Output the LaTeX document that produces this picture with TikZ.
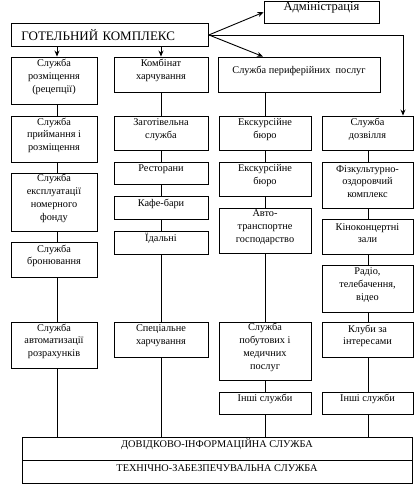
\documentclass[tikz,border=0pt]{standalone}
\usepackage{fontspec}
\setmainfont{Liberation Serif}
\usetikzlibrary{fit,arrows.meta}
\newcommand\mkbox[6]{\node[box, fit={(#2,#3)(#4,#5)}] (#1) {#6};}
\begin{document}
\begin{tikzpicture}[x=1pt,y=-1pt,
  box/.style={draw, line width=0.9pt, inner sep=0pt, align=center,
    font=\fontsize{10.3}{12.8}\selectfont},
  conn/.style={line width=0.9pt},
  arr/.style={line width=0.9pt, -{Stealth[length=6pt,width=5pt]}}]
\useasboundingbox (0,0) rectangle (415,493);
% top
\node[draw, line width=0.9pt, anchor=north west, minimum height=23pt, text width=177pt,
  inner xsep=10pt, inner ysep=0pt, align=left, font=\fontsize{13}{15}\selectfont] (g) at (11,23) {ГОТЕЛЬНИЙ КОМПЛЕКС};
\node[box, fit={(264,1.5)(379,23)}, font=\fontsize{12.5}{14}\selectfont] (adm) {Адміністрація};
% column coordinates
\coordinate (c1) at (57,0);
\coordinate (c2) at (161,0);
\coordinate (c3) at (265,0);
\coordinate (cP) at (263,0);
\coordinate (c4) at (368,0);
\coordinate (cD) at (403,0);
% column 1
\mkbox{a1}{11}{57}{97}{104}{Служба\\розміщення\\(рецепції)}
\mkbox{a2}{11}{116}{97}{162}{Служба\\приймання і\\розміщення}
\mkbox{a3}{11}{173}{97}{231}{Служба\\експлуатації\\номерного\\фонду}
\mkbox{a4}{11}{242}{97}{277}{Служба\\бронювання}
\mkbox{a5}{11}{322}{97}{368}{Служба\\автоматизації\\розрахунків}
% column 2
\mkbox{b1}{114}{57}{208}{92}{Комбінат\\харчування}
\mkbox{b2}{114}{116}{208}{150}{Заготівельна\\служба}
\mkbox{b3}{114}{162}{208}{184}{Ресторани}
\mkbox{b4}{114}{196}{208}{219}{Кафе-бари}
\mkbox{b5}{114}{231}{208}{254}{Їдальні}
\mkbox{b6}{114}{322}{208}{357}{Спеціальне\\харчування}
% column 3
\mkbox{p}{218}{57}{380}{92}{Служба периферійних\ \ послуг}
\mkbox{e1}{219}{116}{311}{150}{Екскурсійне\\бюро}
\mkbox{e2}{219}{162}{311}{196}{Екскурсійне\\бюро}
\mkbox{e3}{219}{208}{311}{253}{Авто-\\транспортне\\господарство}
\mkbox{e4}{219}{322}{311}{380}{Служба\\побутових і\\медичних\\послуг}
\mkbox{e5}{219}{392}{311}{414}{Інші служби}
% column 4
\mkbox{d1}{322}{116}{413}{150}{Служба\\дозвілля}
\mkbox{d2}{322}{162}{413}{208}{Фізкультурно-\\оздоровчий\\комплекс}
\mkbox{d3}{322}{219}{413}{254}{Кіноконцертні\\зали}
\mkbox{d4}{322}{265}{413}{312}{Радіо,\\телебачення,\\відео}
\mkbox{d5}{322}{322}{413}{357}{Клуби за\\інтересами}
\mkbox{d6}{322}{392}{413}{414}{Інші служби}
% bottom
\mkbox{s1}{22}{437}{412}{460}{ДОВІДКОВО-ІНФОРМАЦІЙНА СЛУЖБА}
\mkbox{s2}{22}{460}{412}{483}{ТЕХНІЧНО-ЗАБЕЗПЕЧУВАЛЬНА СЛУЖБА}
% arrows from top
\draw[arr] (g.east) -- (adm.west);
\draw[arr] (g.east) -- (p.north -| cP);
\draw[arr] (g.east) -| (d1.north -| cD);
\draw[arr] (g.south -| c1) -- (a1.north -| c1);
\draw[arr] (g.south -| c2) -- (b1.north -| c2);
% column 1 lines
\draw[conn] (a1.south -| c1) -- (a2.north -| c1);
\draw[conn] (a2.south -| c1) -- (a3.north -| c1);
\draw[conn] (a3.south -| c1) -- (a4.north -| c1);
\draw[conn] (a4.south -| c1) -- (a5.north -| c1);
\draw[conn] (a5.south -| c1) -- (s1.north -| c1);
% column 2 lines
\draw[conn] (b1.south -| c2) -- (b2.north -| c2);
\draw[conn] (b2.south -| c2) -- (b3.north -| c2);
\draw[conn] (b3.south -| c2) -- (b4.north -| c2);
\draw[conn] (b4.south -| c2) -- (b5.north -| c2);
\draw[conn] (b5.south -| c2) -- (b6.north -| c2);
\draw[conn] (b6.south -| c2) -- (s1.north -| c2);
% column 3 lines
\draw[conn] (p.south -| c3) -- (e1.north -| c3);
\draw[conn] (e1.south -| c3) -- (e2.north -| c3);
\draw[conn] (e2.south -| c3) -- (e3.north -| c3);
\draw[conn] (e3.south -| c3) -- (e4.north -| c3);
\draw[conn] (e4.south -| c3) -- (e5.north -| c3);
\draw[conn] (e5.south -| c3) -- (s1.north -| c3);
% column 4 lines
\draw[conn] (d1.south -| c4) -- (d2.north -| c4);
\draw[conn] (d2.south -| c4) -- (d3.north -| c4);
\draw[conn] (d3.south -| c4) -- (d4.north -| c4);
\draw[conn] (d4.south -| c4) -- (d5.north -| c4);
\draw[conn] (d5.south -| c4) -- (d6.north -| c4);
\draw[conn] (d6.south -| c4) -- (s1.north -| c4);
\end{tikzpicture}
\end{document}
